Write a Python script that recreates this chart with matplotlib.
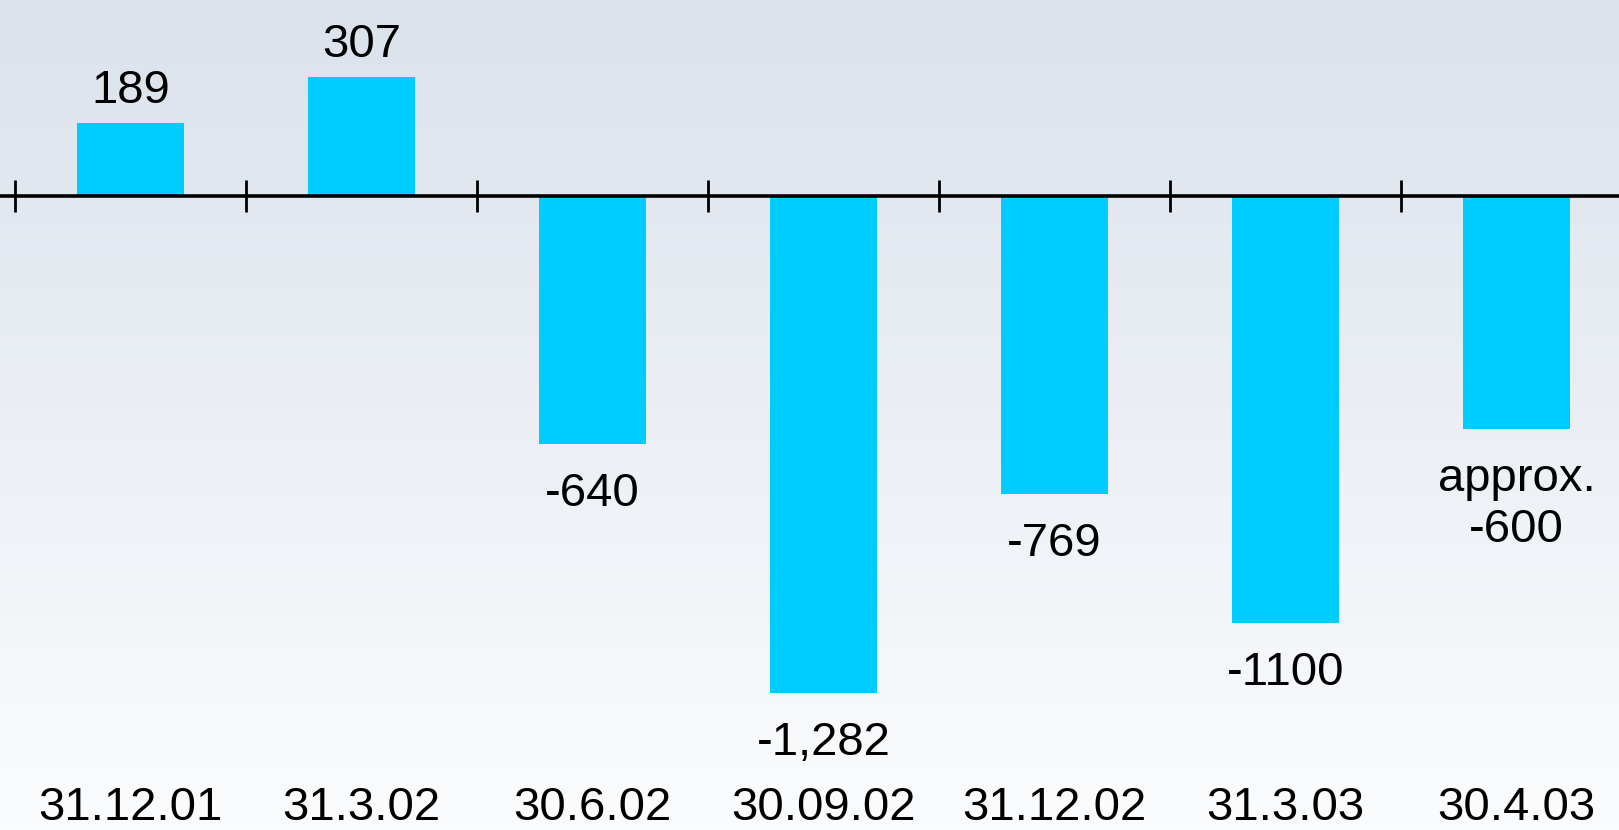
import numpy as np
import matplotlib
matplotlib.use("Agg")
import matplotlib.pyplot as plt
from matplotlib.colors import LinearSegmentedColormap
from matplotlib.transforms import blended_transform_factory

categories = ["31.12.01", "31.3.02", "30.6.02", "30.09.02", "31.12.02", "31.3.03", "30.4.03"]
values = [189, 307, -640, -1282, -769, -1100, -600]
value_labels = ["189", "307", "-640", "-1,282", "-769", "-1100", "approx.\n-600"]

plt.rcParams['font.family'] = ['Liberation Sans', 'DejaVu Sans']

fig = plt.figure(figsize=(16.19, 8.30), dpi=100)

# background gradient
bg = fig.add_axes([0, 0, 1, 1], zorder=0)
grad = np.linspace(0, 1, 256).reshape(-1, 1)
cmap = LinearSegmentedColormap.from_list("bg", ["#dbe2ec", "#fbfcfd"])
bg.imshow(grad, aspect='auto', cmap=cmap, extent=[0, 1, 0, 1], origin='upper')
bg.set_axis_off()

ax = fig.add_axes([0, 0, 1, 1], zorder=1)
ax.patch.set_alpha(0)
x = np.arange(len(categories))
ax.bar(x, values, width=0.46, color="#00ccff", zorder=2)

ax.set_xlim(-0.565, 6.444)
ax.set_ylim(-1634, 505)
ax.axhline(0, color="black", lw=2.6, zorder=3)
bounds = np.arange(len(categories)) - 0.5
ax.plot(bounds, np.zeros_like(bounds), linestyle='none', marker='|',
        markersize=23, markeredgewidth=2.0, color='black', zorder=3)
ax.set_axis_off()

for xi, v, lab in zip(x, values, value_labels):
    if v >= 0:
        ax.annotate(lab, (xi, v), xytext=(0, 14), textcoords='offset points',
                    ha='center', va='baseline', fontsize=34)
    else:
        ax.annotate(lab, (xi, v), xytext=(0, -20), textcoords='offset points',
                    ha='center', va='top', fontsize=34, linespacing=1.22)

trans = blended_transform_factory(ax.transData, fig.transFigure)
for xi, c in zip(x, categories):
    ax.text(xi, 10 / 830, c, transform=trans, ha='center', va='baseline', fontsize=34)

fig.savefig("out.png", dpi=100)
